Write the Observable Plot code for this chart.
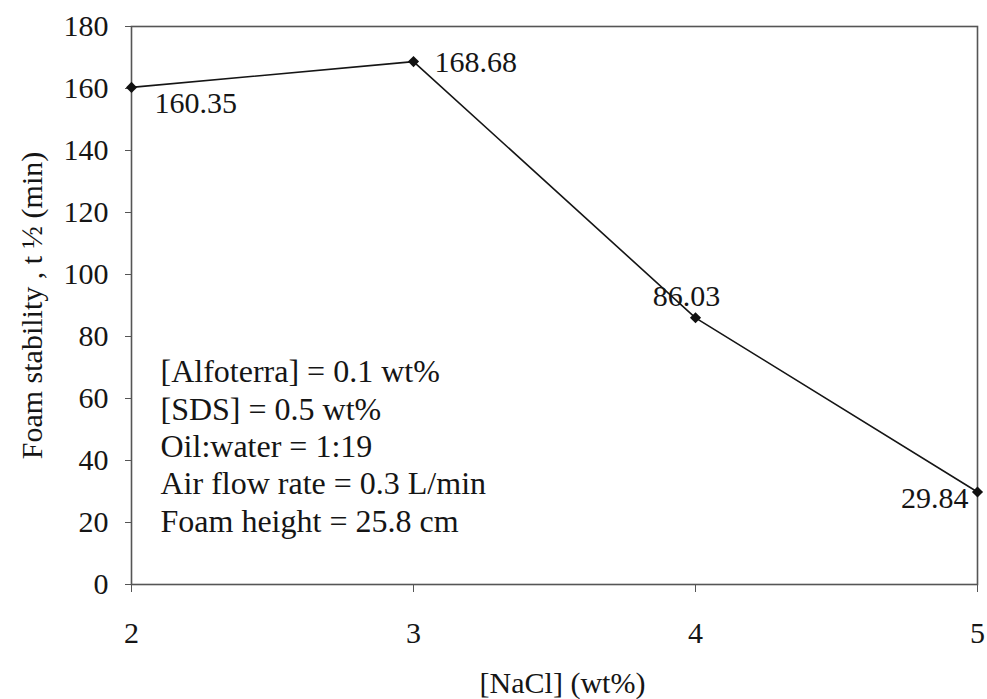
<!DOCTYPE html>
<html>
<head>
<meta charset="utf-8">
<script src="https://cdn.jsdelivr.net/npm/d3@7"></script>
<script src="https://cdn.jsdelivr.net/npm/@observablehq/plot@0.6"></script>
<style>
  html, body { margin: 0; padding: 0; background: #fff; }
  #chart svg { display: block; }
  #chart svg, #chart svg text { font-family: "Liberation Serif", "Times New Roman", serif !important; }
</style>
</head>
<body>
<div id="chart"></div>
<script>
const nacl = [2, 3, 4, 5];
const stability = [160.35, 168.68, 86.03, 29.84];
const valueLabels = ["160.35", "168.68", "86.03", "29.84"];
const xTicks = [2, 3, 4, 5];
const yTicks = [0, 20, 40, 60, 80, 100, 120, 140, 160, 180];
const notes = [
  "[Alfoterra] = 0.1 wt%",
  "[SDS] = 0.5 wt%",
  "Oil:water = 1:19",
  "Air flow rate = 0.3 L/min",
  "Foam height = 25.8 cm"
];
const xTitle = "[NaCl] (wt%)";
const yTitle = "Foam stability , t \u00BD (min)";

const data = nacl.map((x, i) => ({x, y: stability[i], label: valueLabels[i]}));
const ink = "#151515";
const axisInk = "#555";
const FS = 30;
const FF = "Liberation Serif";

const labelMark = (i, opts) => Plot.text(data, {
  filter: (d, j) => j === i,
  x: "x", y: "y", text: "label",
  fill: ink, fontSize: FS, fontFamily: FF, ...opts
});

const chart = Plot.plot({
  width: 987,
  height: 699,
  marginLeft: 131,
  marginRight: 10,
  marginTop: 26,
  marginBottom: 115,
  style: {fontFamily: FF, fontSize: "30px", background: "#fff", color: ink},
  x: {domain: [2, 5], label: null},
  y: {domain: [0, 180], label: null},
  marks: [
    Plot.frame({stroke: axisInk, strokeWidth: 1.6}),
    Plot.axisY({ticks: yTicks, tickSize: 6, tickPadding: 17, stroke: axisInk, fill: ink, fontSize: FS, fontFamily: FF, label: null, tickFormat: d => String(d)}),
    Plot.axisX({ticks: xTicks, tickSize: 8, tickPadding: 29, stroke: axisInk, fill: ink, fontSize: FS, fontFamily: FF, label: null, tickFormat: d => String(d)}),
    Plot.line(data, {x: "x", y: "y", stroke: ink, strokeWidth: 1.6}),
    Plot.dot(data, {x: "x", y: "y", symbol: "diamond2", r: 5, fill: "#111", stroke: null}),
    labelMark(0, {textAnchor: "start", dx: 23, dy: 16}),
    labelMark(1, {textAnchor: "start", dx: 21, dy: 1}),
    labelMark(2, {textAnchor: "middle", dx: -9, dy: -21}),
    labelMark(3, {textAnchor: "end", dx: -9, dy: 6}),
    Plot.text([notes.join("\n")], {
      frameAnchor: "top-left", text: d => d, textAnchor: "start", lineAnchor: "top",
      lineHeight: 1.17, dx: 29, dy: 329, fill: ink, fontSize: 32, fontFamily: FF
    }),
    Plot.text([xTitle], {frameAnchor: "bottom", text: d => d, textAnchor: "middle", lineAnchor: "middle", dx: 8, dy: 99, fill: ink, fontSize: FS, fontFamily: FF}),
    Plot.text([yTitle], {frameAnchor: "left", text: d => d, textAnchor: "middle", lineAnchor: "middle", rotate: -90, dx: -99, dy: 0, fill: ink, fontSize: FS, fontFamily: FF})
  ]
});
document.getElementById("chart").appendChild(chart);
</script>
</body>
</html>
